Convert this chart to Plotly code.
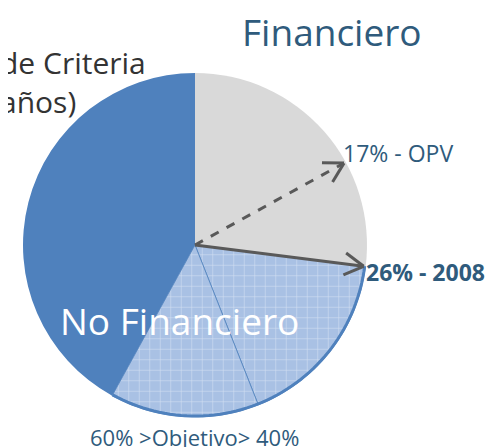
import math
import plotly.graph_objects as go

# ---- data ----
slice_labels = ["Financiero", "OPV", "Objetivo", "No Financiero"]
slice_values = [27, 17, 14, 42]
slice_colors = ["#D9D9D9", "#A9C1E4", "#A9C1E4", "#4F81BD"]
opv_pct_label = "17% - OPV"
fin_pct_label = "26% - 2008"
opv_fraction = 0.17
title_text = "Financiero"
left_lines = ["de Criteria", "años)"]
inner_label = "No Financiero"
bottom_label = "60% >Objetivo> 40%"

W, H = 495, 447
OFF = 8  # page body margin compensation
CX, CY, R = 195, 245, 172
TXT = "#2F5B7C"
ARROW = "#595959"
FONT = "Open Sans"


def px(x, y):
    return (x - OFF) / W, 1 - (y - OFF) / H


def polar(frac, r):
    a = frac * 2 * math.pi
    return CX + r * math.sin(a), CY - r * math.cos(a)


total = sum(slice_values)
fracs = [v / total for v in slice_values]

dx0, dy0 = px(CX - R, CY + R)
dx1, dy1 = px(CX + R, CY - R)

fig = go.Figure()
fig.add_trace(go.Pie(
    labels=slice_labels,
    values=slice_values,
    sort=False,
    direction="clockwise",
    rotation=0,
    textinfo="none",
    hoverinfo="label+percent",
    showlegend=False,
    domain=dict(x=[dx0, dx1], y=[dy0, dy1]),
    marker=dict(
        colors=slice_colors,
        line=dict(color=["#D9D9D9", "#4F81BD", "#4F81BD", "#4F81BD"], width=[0, 0.8, 0.8, 0]),
        pattern=dict(
            shape=["", "+", "+", ""],
            fgcolor="#FFFFFF",
            bgcolor=slice_colors,
            size=10.5,
            solidity=0.1,
            fillmode="overlay",
        ),
    ),
))

shapes = []
# blue arc outline around the patterned slices
f0 = fracs[0]
f1 = fracs[0] + fracs[1] + fracs[2]
pts = []
n = 60
for i in range(n + 1):
    f = f0 + (f1 - f0) * i / n
    x, y = polar(f, R - 1)
    pts.append(px(x, y))
path = "M " + " L ".join(f"{X:.5f},{Y:.5f}" for X, Y in pts)
shapes.append(dict(type="path", xref="paper", yref="paper", path=path,
                   line=dict(color="#4F81BD", width=3)))


def arrow(frac, r, dash):
    tx, ty = polar(frac, r)
    X0, Y0 = px(CX, CY)
    X1, Y1 = px(tx, ty)
    shapes.append(dict(type="line", xref="paper", yref="paper", x0=X0, y0=Y0, x1=X1, y1=Y1,
                       line=dict(color=ARROW, width=3, dash=dash)))
    ang = math.atan2(ty - CY, tx - CX)
    for s in (1, -1):
        a = ang + math.pi + s * math.radians(30)
        hx, hy = tx + 22 * math.cos(a), ty + 22 * math.sin(a)
        HX, HY = px(hx, hy)
        shapes.append(dict(type="line", xref="paper", yref="paper", x0=X1, y0=Y1, x1=HX, y1=HY,
                           line=dict(color=ARROW, width=3)))


arrow(opv_fraction, 170, "dash")
arrow(fracs[0], 170, "solid")

# right border line
bx, _ = px(489.5, 0)
shapes.append(dict(type="line", xref="paper", yref="paper", x0=bx, x1=bx, y0=0, y1=1,
                   line=dict(color="#E3E3E3", width=2), layer="below"))

annotations = []


def ann(text, x, y, size, color, xanchor="left", bold=False):
    X, Y = px(x, y)
    annotations.append(dict(text=f"<b>{text}</b>" if bold else text, x=X, y=Y, xref="paper", yref="paper",
                            xanchor=xanchor, yanchor="middle", showarrow=False,
                            font=dict(family=FONT, size=size, color=color)))


ann(title_text, 240, 31, 37, TXT)
ann(left_lines[0], 148, 62, 30, "#333333", xanchor="right")
ann(left_lines[1], 78, 101, 30, "#333333", xanchor="right")
ann(opv_pct_label, 341, 153, 23, TXT)
ann(fin_pct_label, 364, 272, 23, TXT, bold=True)
ann(inner_label, 58, 320, 37, "#FFFFFF")
ann(bottom_label, 88, 437, 22, TXT)

fig.update_layout(
    width=W, height=H,
    margin=dict(l=0, r=0, t=0, b=0),
    paper_bgcolor="white", plot_bgcolor="white",
    shapes=shapes, annotations=annotations,
)
fig.write_html("out.html")
